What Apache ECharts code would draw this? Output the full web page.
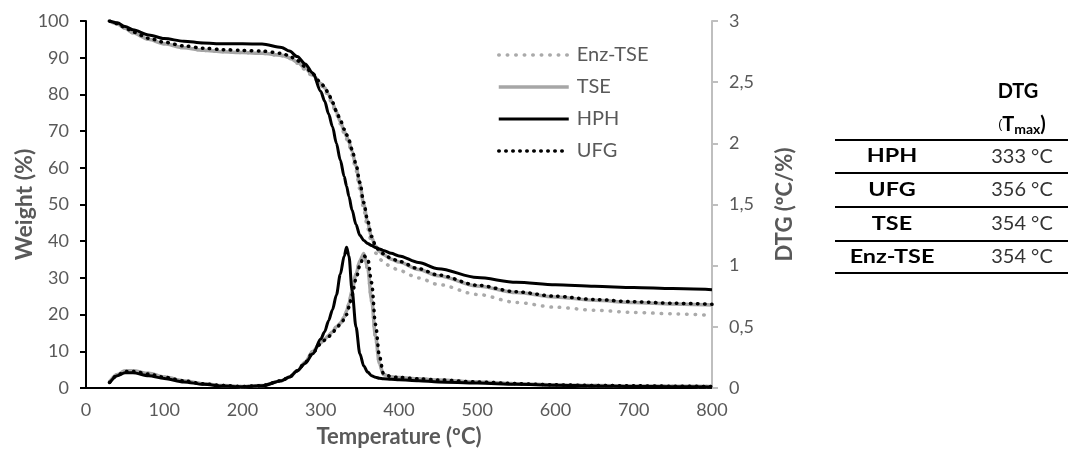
<!DOCTYPE html>
<html>
<head>
<meta charset="utf-8">
<script src="https://cdn.jsdelivr.net/npm/echarts@6/dist/echarts.min.js"></script>
<style>html,body{margin:0;padding:0;background:#fff}#c{width:1068px;height:457px}</style>
</head>
<body>
<div id="c"></div>
<script>
// Temperature grid (°C)
var temps = [30,40,50,60,80,100,125,150,175,200,225,250,260,270,280,290,300,305,310,315,320,325,330,333,336,340,345,350,355,360,365,370,375,380,390,400,425,450,500,550,600,650,700,750,800];

// Weight (%)
var wHPH = [100,99.5,98.5,97.6,96.2,95.2,94.5,94,93.8,93.8,93.7,92.8,91.8,90.3,88.3,85.8,80.8,78.2,74.7,71.2,66.7,62.1,57.6,55,52.2,48.5,44.6,41.6,40.2,39.4,38.8,38.3,37.9,37.5,36.7,36,34.2,32.5,30.1,28.8,28.1,27.7,27.4,27.1,26.8];
var wUFG = [100,99.3,98.2,97,95.3,94.2,93.2,92.6,92.2,92,91.8,91.2,90.5,89.2,87.6,85.5,83.2,82,80.2,77.8,75.5,73,70.5,69,67.5,65,61,56,50.5,45.5,41.3,38.8,37.4,36.6,35.3,34.5,32.5,30.8,28,26.2,25,24.1,23.5,23.1,22.8];
var wTSE = [100,99.2,98,96.8,95,93.8,92.7,92,91.6,91.4,91.2,90.7,90,88.8,87.2,85.2,83,81.8,80,77.6,75.2,72.6,70,68.5,67,64.5,60.5,55.5,50,45,41,38.6,37.2,36.4,35.1,34.3,32.3,30.6,27.8,26,24.8,23.9,23.3,22.9,22.6];
var wEnz = [100,99.2,98,96.8,95,93.8,92.7,92,91.6,91.4,91.2,90.5,89.8,88.5,86.8,84.8,82.5,81.2,79.4,77,74.6,72,69.4,67.8,66.2,63.5,59.3,54.2,48.5,43.5,39.5,36.8,35.2,34.3,33,32,30,28.2,25.5,23.3,22,21.2,20.6,20.2,19.8];

// DTG (°C/%)
var dHPH = [0.04,0.1,0.125,0.125,0.1,0.078,0.05,0.03,0.016,0.01,0.018,0.06,0.09,0.14,0.2,0.28,0.4,0.46,0.55,0.64,0.76,0.93,1.08,1.15,1.08,0.8,0.5,0.28,0.18,0.13,0.1,0.088,0.08,0.076,0.072,0.068,0.06,0.05,0.04,0.03,0.022,0.017,0.013,0.01,0.008];
var dUFG = [0.045,0.105,0.135,0.135,0.115,0.088,0.058,0.034,0.02,0.012,0.02,0.06,0.09,0.14,0.21,0.29,0.36,0.39,0.42,0.45,0.49,0.52,0.56,0.6,0.66,0.76,0.89,1.0,1.08,1.06,0.86,0.52,0.26,0.12,0.092,0.086,0.076,0.066,0.05,0.036,0.026,0.021,0.018,0.015,0.012];
var dTSE = [0.05,0.11,0.14,0.14,0.12,0.09,0.06,0.035,0.02,0.012,0.02,0.06,0.09,0.14,0.21,0.3,0.37,0.4,0.43,0.46,0.5,0.53,0.58,0.63,0.69,0.8,0.93,1.04,1.1,0.98,0.72,0.42,0.2,0.11,0.09,0.085,0.075,0.065,0.05,0.035,0.025,0.02,0.017,0.014,0.012];
var dEnz = [0.05,0.11,0.14,0.14,0.12,0.09,0.06,0.035,0.02,0.012,0.02,0.06,0.09,0.14,0.21,0.3,0.37,0.4,0.43,0.46,0.5,0.53,0.58,0.63,0.69,0.8,0.93,1.04,1.09,0.97,0.71,0.41,0.2,0.11,0.09,0.085,0.075,0.065,0.05,0.035,0.025,0.02,0.017,0.014,0.012];

var legendNames = ['Enz-TSE','TSE','HPH','UFG'];
var xTicks = [0,100,200,300,400,500,600,700,800];

// Table
var tableRows = ['HPH','UFG','TSE','Enz-TSE'];
var tableVals = ['333 °C','356 °C','354 °C','354 °C'];

function pairs(v){ return temps.map(function(t,i){ return [t, v[i]]; }); }

var FONT = 'Lato, "Open Sans", sans-serif';
var styles = {
  'Enz-TSE': {color:'#aaaaaa', width:3.5, type:[0.5,8], cap:'round'},
  'TSE': {color:'#a6a6a6', width:3.5, type:'solid', cap:'butt'},
  'HPH': {color:'#000000', width:3, type:'solid', cap:'butt'},
  'UFG': {color:'#000000', width:3.5, type:[0.5,6.5], cap:'round'}
};
var wData = {'Enz-TSE':wEnz,'TSE':wTSE,'HPH':wHPH,'UFG':wUFG};
var dData = {'Enz-TSE':dEnz,'TSE':dTSE,'HPH':dHPH,'UFG':dUFG};

var series = [];
[0,1].forEach(function(ax){
  legendNames.forEach(function(n){
    var s = styles[n];
    series.push({name:n, type:'line', yAxisIndex:ax, data:pairs(ax===0?wData[n]:dData[n]), showSymbol:false, symbol:'none',
      smooth:0.3, smoothMonotone:'x', color:s.color,
      lineStyle:{color:s.color, width:s.width, type:s.type, cap:s.cap}, z: n==='HPH'?4:(n==='UFG'?5:3)});
  });
});

var legendData = legendNames.map(function(n){
  var s = styles[n];
  return {name:n, lineStyle:{color:s.color, width:s.width, type:s.type, cap:s.cap}};
});

var graphic = [];
var lineYs = [140,173,207,241,273];
lineYs.forEach(function(y){
  graphic.push({type:'line', shape:{x1:835,y1:y,x2:1068,y2:y}, style:{stroke:'#000', lineWidth:2}});
});
graphic.push({type:'text', x:1018, y:92, style:{text:'DTG', font:'bold 20px '+FONT, fill:'#000', textAlign:'center', textVerticalAlign:'middle'}});
graphic.push({type:'text', x:1022, y:125, style:{text:'({a|T}{b|max}{a|)}', textAlign:'center', textVerticalAlign:'middle',
  rich:{a:{font:'bold 20px '+FONT, fill:'#000', lineHeight:24}, b:{font:'bold 14px '+FONT, fill:'#000', lineHeight:24, padding:[8,0,0,0]}}}});
tableRows.forEach(function(r,i){
  var yc = (lineYs[i]+lineYs[i+1])/2;
  graphic.push({type:'text', x:892, y:yc, scaleX:1.3, style:{text:r, font:'bold 18px '+FONT, fill:'#000', textAlign:'center', textVerticalAlign:'middle'}});
  graphic.push({type:'text', x:1022, y:yc, scaleX:1.05, style:{text:tableVals[i], font:'19px '+FONT, fill:'#333', textAlign:'center', textVerticalAlign:'middle'}});
});

var chart = echarts.init(document.getElementById('c'));
chart.setOption({
  animation:false,
  backgroundColor:'#fff',
  textStyle:{fontFamily:FONT},
  grid:{left:86, right:356, top:21, bottom:69, containLabel:false, outerBoundsMode:'none'},
  legend:{data:legendData, orient:'vertical', left:492, top:40, itemWidth:70, itemHeight:14, itemGap:12,
    itemStyle:{opacity:0},
    textStyle:{fontSize:20, color:'#595959', fontFamily:FONT, padding:[0,0,0,3]}},
  xAxis:{type:'value', min:0, max:800, interval:100,
    name:'Temperature (ºC)', nameLocation:'middle', nameGap:38, nameMoveOverlap:false,
    nameTextStyle:{fontSize:22, fontWeight:'bold', color:'#595959', fontFamily:FONT},
    axisLine:{show:true, lineStyle:{color:'#000', width:2}}, axisTick:{show:false},
    axisLabel:{fontSize:18, color:'#595959', margin:13, fontFamily:FONT,
      formatter:function(v){ return xTicks.indexOf(v)>=0 ? String(v) : ''; }},
    splitLine:{show:false}},
  yAxis:[
    {type:'value', min:0, max:100, interval:10, position:'left',
      name:'Weight (%)', nameLocation:'middle', nameGap:50, nameRotate:90, nameMoveOverlap:false,
      nameTextStyle:{fontSize:23, fontWeight:'bold', color:'#595959', fontFamily:FONT},
      axisLine:{show:true, lineStyle:{color:'#000', width:2}},
      axisTick:{show:true, inside:false, length:6, lineStyle:{color:'#000', width:2}},
      axisLabel:{fontSize:18, color:'#595959', margin:17, fontFamily:FONT},
      splitLine:{show:false}},
    {type:'value', min:0, max:3, interval:0.5, position:'right',
      name:'DTG (ºC/%)', nameLocation:'middle', nameGap:62, nameRotate:90, nameMoveOverlap:false,
      nameTextStyle:{fontSize:22, fontWeight:'bold', color:'#595959', fontFamily:FONT},
      axisLine:{show:true, lineStyle:{color:'#bfbfbf', width:2}},
      axisTick:{show:true, inside:false, length:6, lineStyle:{color:'#bfbfbf', width:2}},
      axisLabel:{fontSize:18, color:'#595959', margin:17, fontFamily:FONT,
        formatter:function(v){ return String(v).replace('.', ','); }},
      splitLine:{show:false}}
  ],
  series:series,
  graphic:graphic
});
</script>
</body>
</html>
